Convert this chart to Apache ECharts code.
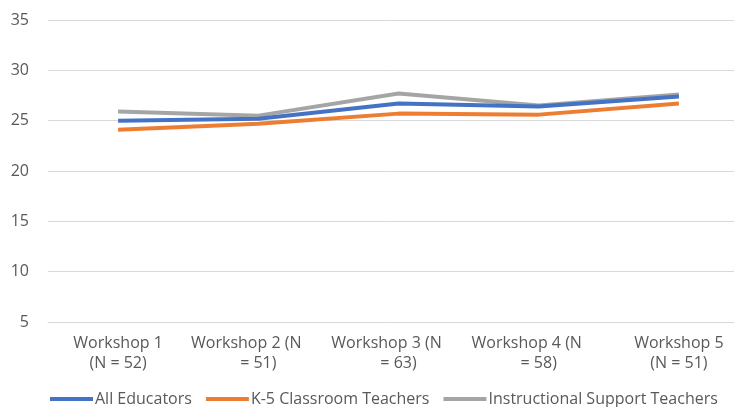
<!DOCTYPE html>
<html>
<head>
<meta charset="utf-8">
<script src="https://cdn.jsdelivr.net/npm/echarts@6/dist/echarts.min.js"></script>
<style>html,body{margin:0;padding:0;background:#fff}#c{width:734px;height:407px}</style>
</head>
<body>
<div id="c"></div>
<script>
const categories = ['Workshop 1\n(N = 52)', 'Workshop 2 (N\n= 51)', 'Workshop 3 (N\n= 63)', 'Workshop 4 (N\n= 58)', 'Workshop 5\n(N = 51)'];
const seriesNames = ['All Educators', 'K-5 Classroom Teachers', 'Instructional Support Teachers'];
const allEducators = [25.0, 25.2, 26.7, 26.4, 27.4];
const k5Teachers = [24.1, 24.7, 25.7, 25.6, 26.7];
const supportTeachers = [25.9, 25.5, 27.7, 26.5, 27.6];
const yTicks = { min: 5, max: 35, interval: 5 };
const colors = ['#4472C4', '#ED7D31', '#A5A5A5'];

const chart = echarts.init(document.getElementById('c'), null, { renderer: 'canvas' });
const font = '"Open Sans", sans-serif';
const mk = (name, data, color, z) => ({
  name, type: 'line', data, symbol: 'none', z,
  lineStyle: { width: 4, color }, itemStyle: { color },
  emphasis: { disabled: true }
});
const lbl = { fontSize: 16, color: '#595959', fontFamily: font, lineHeight: 20 };
chart.setOption({
  animation: false,
  textStyle: { fontFamily: font },
  grid: { left: 48, width: 701, top: 20, bottom: 85, containLabel: false, outerBoundsMode: 'none' },
  legend: {
    top: 391, left: 50, padding: 0,
    icon: 'rect', itemWidth: 43, itemHeight: 4, itemGap: 14,
    textStyle: { fontSize: 16, color: '#595959', fontFamily: font, padding: [0, 0, 0, -3] },
    data: seriesNames
  },
  xAxis: {
    type: 'category', data: categories, boundaryGap: true,
    axisLine: { show: true, lineStyle: { color: '#D9D9D9', width: 1 } },
    axisTick: { show: false },
    axisLabel: {
      fontSize: 16, color: '#595959', fontFamily: font, margin: 11, lineHeight: 20, interval: 0,
      formatter: function (v) {
        const parts = v.split('\n');
        const first = /\(N$/.test(parts[0]) ? 'w' : 'a';
        return '{' + first + '|' + parts[0] + '}\n{a|' + parts[1] + '}';
      },
      rich: {
        a: Object.assign({}, lbl),
        w: Object.assign({}, lbl, { padding: [0, 24, 0, 0] })
      }
    }
  },
  yAxis: {
    type: 'value', min: yTicks.min, max: yTicks.max, interval: yTicks.interval,
    axisLine: { show: false }, axisTick: { show: false },
    splitLine: { lineStyle: { color: '#D9D9D9', width: 1 } },
    axisLabel: { fontSize: 16, color: '#595959', fontFamily: font, margin: 19 }
  },
  series: [
    mk(seriesNames[0], allEducators, colors[0], 3),
    mk(seriesNames[1], k5Teachers, colors[1], 2),
    mk(seriesNames[2], supportTeachers, colors[2], 1)
  ]
});
</script>
</body>
</html>
